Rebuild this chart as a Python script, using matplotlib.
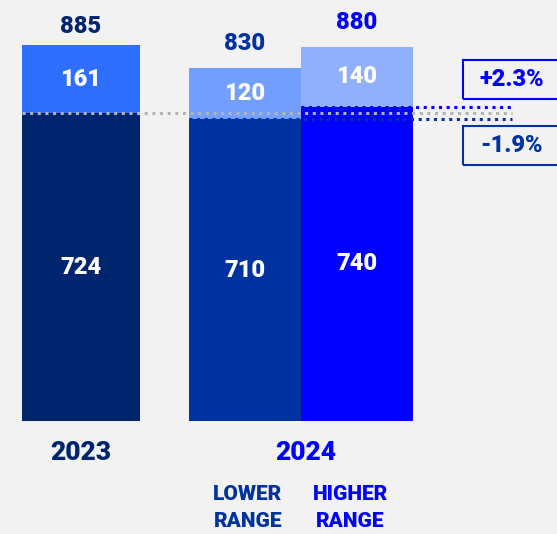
import matplotlib
matplotlib.use("Agg")
import matplotlib.pyplot as plt
from matplotlib.patches import Rectangle

# data
years = ["2023", "2024"]
scenarios = ["2023", "LOWER\nRANGE", "HIGHER\nRANGE"]
base_vals = [724, 710, 740]
top_vals = [161, 120, 140]
totals = [885, 830, 880]
changes = ["+2.3%", "-1.9%"]

BG = "#f2f2f2"
base_cols = ["#00256e", "#0033a0", "#0000ff"]
top_cols = ["#2e6fff", "#729fff", "#91b0fb"]
total_cols = ["#00256e", "#0033a0", "#0000ff"]

W, H = 557, 534
Y0 = 421          # pixel row of value 0
SCALE = 0.4249    # pixels per unit

def px2v(py):
    return (Y0 - py) / SCALE

plt.rcParams['font.family'] = ['Roboto', 'DejaVu Sans']
WT = "heavy"

fig = plt.figure(figsize=(W / 100, H / 100), dpi=100, facecolor=BG)
ax = fig.add_axes([0, 0, 1, 1])
ax.set_facecolor(BG)
ax.set_xlim(0, W)
ax.set_ylim(px2v(H), px2v(0))
ax.axis("off")

xs = [81, 245, 357]
widths = [118, 112, 112]

ax.bar(xs, base_vals, width=widths, color=base_cols, zorder=2)
ax.bar(xs, top_vals, bottom=base_vals, width=widths, color=top_cols, zorder=2)

# dotted reference lines
ax.plot([22, 512], [base_vals[0]] * 2, ls=(0, (1, 1.5)), color="#b4b4b4", lw=2.2, zorder=3)
ax.plot([189, 512], [base_vals[1]] * 2, ls=(0, (1, 1.5)), color="#0033a0", lw=2.2, zorder=3)
ax.plot([301, 512], [base_vals[2]] * 2, ls=(0, (1, 1.5)), color="#0000ff", lw=2.2, zorder=3)

fs = 17
for i in range(3):
    b, t, tot = base_vals[i], top_vals[i], totals[i]
    ax.text(xs[i], b / 2, str(b), color="white", fontsize=fs, fontweight=WT,
            ha="center", va="center", zorder=4)
    ax.text(xs[i], b + t / 2, str(t), color="white", fontsize=fs, fontweight=WT,
            ha="center", va="center", zorder=4)
    off = 18 if i == 0 else 25
    ax.annotate(str(tot), (xs[i], tot), xytext=(0, off * 0.72), textcoords="offset points",
                color=total_cols[i], fontsize=fs, fontweight=WT,
                ha="center", va="center")

# year labels
ax.text(81, px2v(453), years[0], color="#00256e", fontsize=19, fontweight=WT,
        ha="center", va="center")
ax.text(306, px2v(453), years[1], color="#0000ff", fontsize=19, fontweight=WT,
        ha="center", va="center")
ax.text(248, px2v(508), scenarios[1], color="#0033a0", fontsize=15, fontweight=WT,
        ha="center", va="center", linespacing=1.55)
ax.text(350, px2v(508), scenarios[2], color="#0000ff", fontsize=15, fontweight=WT,
        ha="center", va="center", linespacing=1.55)

# change boxes
boxes = [(60, 99, "#0000ff"), (126, 165, "#0033a0")]
for (y1, y2, c), lab in zip(boxes, changes):
    ax.add_patch(Rectangle((463, px2v(y2)), 120, px2v(y1) - px2v(y2), fill=False,
                           edgecolor=c, lw=1.5, clip_on=False, zorder=3))
    ax.text(512, px2v((y1 + y2) / 2), lab, color=c, fontsize=17, fontweight=WT,
            ha="center", va="center")

fig.savefig("out.png", dpi=100, facecolor=BG)
